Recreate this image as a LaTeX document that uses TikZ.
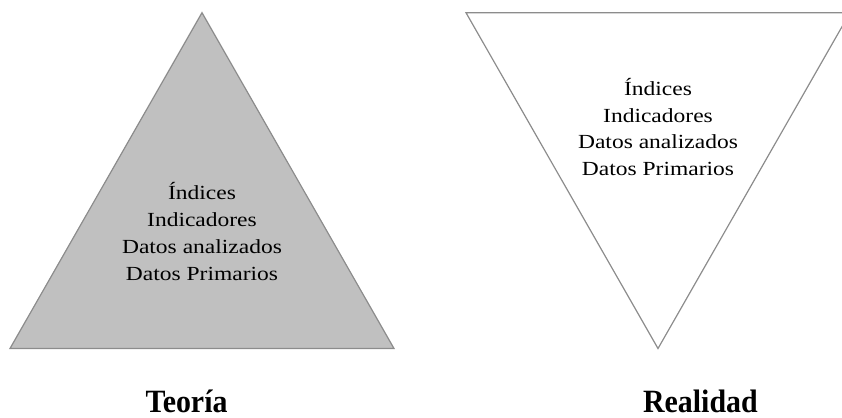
\documentclass[tikz,border=0pt]{standalone}
\usepackage{fontspec}
\setmainfont{Liberation Serif}
\newfontfamily\innerfont[FakeStretch=1.175]{Liberation Serif}
\newfontfamily\captionfont[FakeStretch=0.92]{Liberation Serif}
\definecolor{edgegray}{RGB}{140,140,140}
\definecolor{fillgray}{RGB}{192,192,192}
\begin{document}
\begin{tikzpicture}[x=1pt,y=-1pt,
  tri/.style={draw=edgegray, line width=1.2pt, line join=miter},
  innertext/.style={align=center, inner sep=0pt, font=\innerfont\fontsize{20}{26.7}\selectfont},
  caption/.style={anchor=base, inner sep=0pt, font=\captionfont\fontsize{32.5}{36}\selectfont\bfseries}]
\useasboundingbox (0,0) rectangle (842,417);
\clip (0,0) rectangle (842,417);
% left triangle (Teoria)
\coordinate (la) at (202,12.7);
\coordinate (lb) at (10,348.5);
\coordinate (lc) at (394,348.5);
\draw[tri, fill=fillgray] (la) -- (lb) -- (lc) -- cycle;
% right triangle (Realidad)
\coordinate (ra) at (466,12.7);
\coordinate (rb) at (850,12.7);
\coordinate (rc) at (658,348.5);
\draw[tri] (ra) -- (rb) -- (rc) -- cycle;
% texts (base anchor = baseline of the last line)
\node[innertext, anchor=base] (ltext) at (202,280) {Índices\\Indicadores\\Datos analizados\\Datos Primarios};
\node[innertext, anchor=base] (rtext) at (658,175.5) {Índices\\Indicadores\\Datos analizados\\Datos Primarios};
\node[caption] (teoria) at (186.5,412) {Teoría};
\node[caption] (realidad) at (700.4,412) {Realidad};
\end{tikzpicture}
\end{document}
